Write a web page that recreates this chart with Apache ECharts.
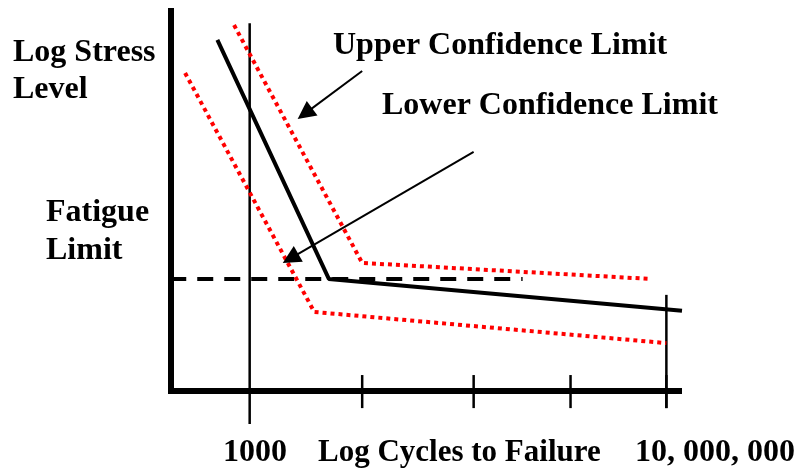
<!DOCTYPE html>
<html>
<head>
<meta charset="utf-8">
<title>Fatigue S-N curve</title>
<script src="https://cdn.jsdelivr.net/npm/echarts@6/dist/echarts.min.js"></script>
<style>
  html, body { margin: 0; padding: 0; background: #fff; }
  #chart { width: 795px; height: 470px; }
</style>
</head>
<body>
<div id="chart"></div>
<script>
// x = log10(cycles to failure), y = log stress level (arbitrary units)
const snCurve = [[2.69, 9.24], [3.76, 2.95], [7.15, 2.11]];
const upperLimit = [[2.85, 9.63], [4.08, 3.37], [6.84, 2.95]];
const lowerLimit = [[2.38, 8.37], [3.62, 2.08], [7.0, 1.26]];
const fatigueLimit = 2.95;
const fatigueRange = [1.46, 5.62];
const tickValues = [4.08, 5.15, 6.08, 7.0];
const tickExtent = [-0.45, 0.42];
// reference verticals at 1000 and 10,000,000 cycles
const refLines = [
  { x: 3, from: -0.87, to: 9.68 },
  { x: 7, from: -0.45, to: 2.53 }
];
const upperArrow = [[4.08, 8.42], [3.53, 7.30]];
const lowerArrow = [[5.15, 6.29], [3.392, 3.49]];
const cycleLabels = ['1000', 'Log Cycles to Failure', '10, 000, 000'];

const chart = echarts.init(document.getElementById('chart'));

const font = 'bold 32px "Liberation Serif", "Times New Roman", serif';
function label(text, x, y, f) {
  return {
    type: 'text', x: x, y: y, silent: true,
    style: { text: text, font: f || font, fill: '#000', verticalAlign: 'middle' }
  };
}

function seg(data, color, width, type, z) {
  return {
    type: 'line', data: data, symbol: 'none', clip: false, silent: true,
    z: z || 2,
    lineStyle: { color: color, width: width, type: type || 'solid' }
  };
}

const series = [];
refLines.forEach(r => series.push(seg([[r.x, r.from], [r.x, r.to]], '#000', 2.5)));
tickValues.forEach(t => series.push(seg([[t, tickExtent[0]], [t, tickExtent[1]]], '#000', 2.5)));
series.push(seg([[fatigueRange[0], fatigueLimit], [fatigueRange[1], fatigueLimit]], '#000', 4, [16, 11]));
series.push(seg(snCurve, '#000', 4));
series.push(seg(upperLimit, '#ff0000', 4, [4, 4], 4));
series.push(seg(lowerLimit, '#ff0000', 4, [4, 4], 4));
// pointer arrows from the labels
series.push({
  type: 'lines', coordinateSystem: 'cartesian2d', silent: true, z: 5,
  symbol: ['none', 'triangle'], symbolSize: 18,
  lineStyle: { color: '#000', width: 2, opacity: 1, curveness: 0 },
  data: [{ coords: upperArrow }, { coords: lowerArrow }]
});

chart.setOption({
  animation: false,
  backgroundColor: '#fff',
  grid: { left: 170.5, right: 113, top: 11, bottom: 79 },
  xAxis: {
    type: 'value', min: 2.24, max: 7.15,
    axisLine: { show: true, onZero: false, lineStyle: { color: '#000', width: 6, cap: 'butt' } },
    axisTick: { show: false }, axisLabel: { show: false }, splitLine: { show: false }
  },
  yAxis: {
    type: 'value', min: 0, max: 10,
    axisLine: { show: true, onZero: false, lineStyle: { color: '#000', width: 6, cap: 'square' } },
    axisTick: { show: false }, axisLabel: { show: false }, splitLine: { show: false }
  },
  graphic: [
    label('Log Stress', 13, 53),
    label('Level', 13, 90),
    label('Fatigue', 46, 213),
    label('Limit', 46, 251),
    label('Upper Confidence Limit', 333, 46),
    label('Lower Confidence Limit', 382, 106),
    label(cycleLabels[0], 223, 453),
    label(cycleLabels[1], 318, 453, 'bold 31px "Liberation Serif", serif'),
    label(cycleLabels[2], 635, 453)
  ],
  series: series
});
</script>
</body>
</html>
